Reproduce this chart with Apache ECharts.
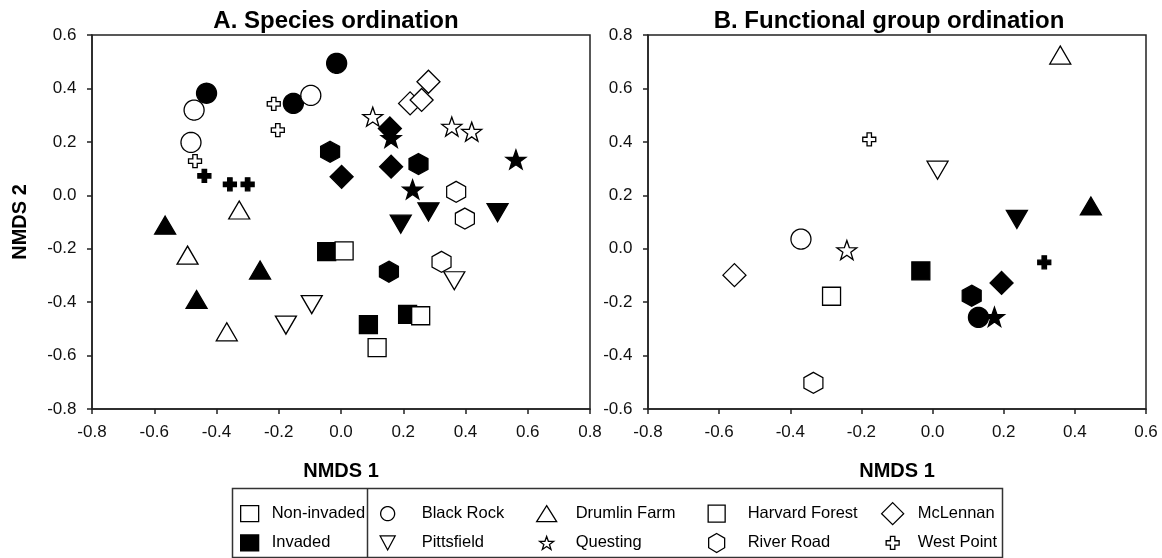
<!DOCTYPE html>
<html><head><meta charset="utf-8">
<script src="https://cdn.jsdelivr.net/npm/echarts@6/dist/echarts.min.js"></script>
<style>html,body{margin:0;padding:0;background:#fff}#c{width:1162px;height:558px}</style>
</head><body><div id="c"></div>
<script>
// ---------------- DATA ----------------
const sites = ['Black Rock','Drumlin Farm','Harvard Forest','McLennan','Pittsfield','Questing','River Road','West Point'];

// A. Species ordination (NMDS1, NMDS2), three plots per site
const speciesNonInvaded = [
  [[-0.472,0.319],[-0.482,0.198],[-0.097,0.374]],
  [[-0.327,-0.055],[-0.493,-0.224],[-0.367,-0.511]],
  [[0.010,-0.208],[0.256,-0.451],[0.116,-0.570]],
  [[0.281,0.425],[0.222,0.344],[0.259,0.357]],
  [[-0.094,-0.409],[-0.177,-0.486],[0.364,-0.320]],
  [[0.102,0.294],[0.356,0.257],[0.420,0.238]],
  [[0.370,0.013],[0.398,-0.087],[0.323,-0.249]],
  [[-0.469,0.128],[-0.216,0.342],[-0.203,0.244]]
];
const speciesInvaded = [
  [[-0.432,0.382],[-0.153,0.344],[-0.014,0.494]],
  [[-0.565,-0.112],[-0.260,-0.280],[-0.464,-0.390]],
  [[-0.046,-0.211],[0.214,-0.446],[0.088,-0.484]],
  [[0.157,0.250],[0.161,0.107],[0.002,0.069]],
  [[0.281,-0.062],[0.192,-0.108],[0.503,-0.065]],
  [[0.161,0.215],[0.562,0.134],[0.230,0.022]],
  [[-0.035,0.163],[0.249,0.117],[0.154,-0.286]],
  [[-0.439,0.073],[-0.357,0.041],[-0.300,0.041]]
];
// B. Functional group ordination, one point per site
const functionalNonInvaded = [
  [-0.370,0.036],[0.359,0.725],[-0.284,-0.178],[-0.557,-0.099],
  [0.014,0.294],[-0.241,-0.005],[-0.335,-0.502],[-0.178,0.409]
];
const functionalInvaded = [
  [0.129,-0.257],[0.445,0.160],[-0.033,-0.083],[0.194,-0.128],
  [0.237,0.110],[0.174,-0.255],[0.110,-0.176],[0.314,-0.051]
];
// axis tick values
const speciesXTicks = [-0.8,-0.6,-0.4,-0.2,0.0,0.2,0.4,0.6,0.8];
const speciesYTicks = [-0.8,-0.6,-0.4,-0.2,0.0,0.2,0.4,0.6];
const functionalXTicks = [-0.8,-0.6,-0.4,-0.2,0.0,0.2,0.4,0.6];
const functionalYTicks = [-0.6,-0.4,-0.2,0.0,0.2,0.4,0.6,0.8];

// ---------------- STYLE ----------------
const FONT = '"Liberation Sans", Arial, Helvetica, sans-serif';
const INK = '#222';
function poly(pts){ return pts.map((p,i)=>(i?'L':'M')+p[0].toFixed(3)+','+p[1].toFixed(3)).join('')+'Z'; }
const shapes = {
  circle:(w,h)=>{const a=[];for(let i=0;i<48;i++){const t=i/48*2*Math.PI;a.push([w/2*Math.cos(t),h/2*Math.sin(t)]);}return a;},
  up:(w,h)=>[[0,-h/2],[w/2,h/2],[-w/2,h/2]],
  down:(w,h)=>[[-w/2,-h/2],[w/2,-h/2],[0,h/2]],
  square:(w,h)=>[[-w/2,-h/2],[w/2,-h/2],[w/2,h/2],[-w/2,h/2]],
  diamond:(w,h)=>[[0,-h/2],[w/2,0],[0,h/2],[-w/2,0]],
  hexagon:(w,h)=>[[0,-h/2],[w/2,-h/4],[w/2,h/4],[0,h/2],[-w/2,h/4],[-w/2,-h/4]],
  star:(w,h)=>{const p=[];for(let i=0;i<10;i++){const r=i%2?0.4:1;const t=-Math.PI/2+i*Math.PI/5;p.push([r*Math.cos(t),r*Math.sin(t)]);}
    const sx=w/1.902, sy=h/1.809; return p.map(q=>[q[0]*sx,(q[1]+0.0955)*sy]);},
  cross:(w,h)=>{const a=w*0.17,b=h*0.17;return [[-a,-h/2],[a,-h/2],[a,-b],[w/2,-b],[w/2,b],[a,b],[a,h/2],[-a,h/2],[-a,b],[-w/2,b],[-w/2,-b],[-a,-b]];}
};
const siteMarker = {
  'Black Rock':['circle',20,20], 'Drumlin Farm':['up',21,18], 'Harvard Forest':['square',18,18],
  'McLennan':['diamond',23,23], 'Pittsfield':['down',21,18], 'Questing':['star',20,19],
  'River Road':['hexagon',19,21], 'West Point':['cross',13,13]
};
const legendMarker = {
  'Non-invaded':['square',18,16], 'Invaded':['square',18,16],
  'Black Rock':['circle',14,14], 'Pittsfield':['down',15,14], 'Drumlin Farm':['up',20,16], 'Questing':['star',14,13],
  'Harvard Forest':['square',17,17], 'River Road':['hexagon',16,19], 'McLennan':['diamond',22,22], 'West Point':['cross',13,13]
};
function seriesSymbol(name){ const m=siteMarker[name]; return 'path://'+poly(shapes[m[0]](m[1],m[2])); }
function legendIcon(name){ const m=legendMarker[name]; const B=24;
  return 'path://'+poly(shapes[m[0]](m[1],m[2]).map(p=>[p[0]+B/2,p[1]+B/2]))+'M0,0M'+B+','+B; }
const OPEN = {color:'#fff', borderColor:'#000', borderWidth:1.3, opacity:1};
const FILLED = {color:'#000', borderColor:'#000', borderWidth:1.3, opacity:1};

const fmt = v => (Math.round(v*10)/10).toFixed(1);
function axis(ticks, gridIndex, margin, extra){
  return Object.assign({
    type:'value', gridIndex, min:ticks[0], max:ticks[ticks.length-1], interval:Math.round((ticks[1]-ticks[0])*10)/10,
    axisLine:{onZero:false, lineStyle:{color:INK, width:1.5}},
    axisTick:{show:true, inside:false, length:5, lineStyle:{color:INK, width:1.5}},
    axisLabel:{fontSize:17, fontFamily:FONT, color:'#111', margin, formatter:fmt, showMinLabel:true, showMaxLabel:true},
    splitLine:{show:false}
  }, extra||{});
}
const nameStyle = {fontSize:20, fontWeight:'bold', fontFamily:FONT, color:'#000'};

const series = [];
series.push({type:'scatter', name:'Non-invaded', xAxisIndex:0, yAxisIndex:0, data:[]});
series.push({type:'scatter', name:'Invaded', xAxisIndex:0, yAxisIndex:0, data:[]});
sites.forEach((s,i)=>{
  const m = siteMarker[s];
  const common = {type:'scatter', name:s, symbol:seriesSymbol(s), symbolSize:[m[1],m[2]], itemStyle:OPEN,
    emphasis:{disabled:true}, animation:false};
  series.push(Object.assign({}, common, {xAxisIndex:0, yAxisIndex:0,
    data: speciesInvaded[i].map(p=>({value:p, itemStyle:FILLED})).concat(speciesNonInvaded[i].map(p=>({value:p})))}));
  series.push(Object.assign({}, common, {xAxisIndex:1, yAxisIndex:1,
    data: [{value:functionalInvaded[i], itemStyle:FILLED}, {value:functionalNonInvaded[i]}]}));
});

function legendItem(name, filled){ return {name, icon:legendIcon(name), itemStyle: filled?FILLED:OPEN}; }
const legendText = {fontSize:16.5, fontFamily:FONT, color:'#000'};
function legendCol(names, left, width, filledFlags){
  return {orient:'vertical', left, top:501, itemWidth:width, itemHeight:24, itemGap:4, padding:0,
    selectedMode:false, textStyle:legendText, data:names.map((n,k)=>legendItem(n, filledFlags?filledFlags[k]:false))};
}

const option = {
  backgroundColor:'#fff',
  animation:false,
  title:[
    {text:'A. Species ordination', left:336, top:9, textAlign:'center', padding:0,
      textStyle:{fontSize:24, fontWeight:'bold', fontFamily:FONT, color:'#000'}},
    {text:'B. Functional group ordination', left:889, top:9, textAlign:'center', padding:0,
      textStyle:{fontSize:24, fontWeight:'bold', fontFamily:FONT, color:'#000'}}
  ],
  grid:[
    {left:92, top:35, width:498, height:374, show:true, borderColor:INK, borderWidth:1.5, containLabel:false, outerBoundsMode:'none'},
    {left:648, top:35, width:498, height:374, show:true, borderColor:INK, borderWidth:1.5, containLabel:false, outerBoundsMode:'none'}
  ],
  xAxis:[
    axis(speciesXTicks, 0, 14.5, {name:'NMDS 1', nameLocation:'middle', nameGap:52, nameTextStyle:nameStyle}),
    axis(functionalXTicks, 1, 14.5, {name:'NMDS 1', nameLocation:'middle', nameGap:52, nameTextStyle:nameStyle})
  ],
  yAxis:[
    axis(speciesYTicks, 0, 15.5, {name:'NMDS 2', nameLocation:'middle', nameGap:62, nameTextStyle:nameStyle}),
    axis(functionalYTicks, 1, 15.5)
  ],
  legend:[
    legendCol(['Non-invaded','Invaded'], 237, 34, [false,true]),
    legendCol(['Black Rock','Pittsfield'], 375, 58),
    legendCol(['Drumlin Farm','Questing'], 534, 48),
    legendCol(['Harvard Forest','River Road'], 704, 52),
    legendCol(['McLennan','West Point'], 880, 40)
  ],
  graphic:[
    {type:'rect', silent:true, shape:{x:232.5, y:488.5, width:770, height:69}, style:{fill:'none', stroke:'#333', lineWidth:1.5}},
    {type:'line', silent:true, shape:{x1:367.5, y1:488.5, x2:367.5, y2:557.5}, style:{stroke:'#333', lineWidth:1.5}}
  ],
  series
};
const chart = echarts.init(document.getElementById('c'), null, {renderer:'canvas'});
chart.setOption(option);
</script></body></html>
